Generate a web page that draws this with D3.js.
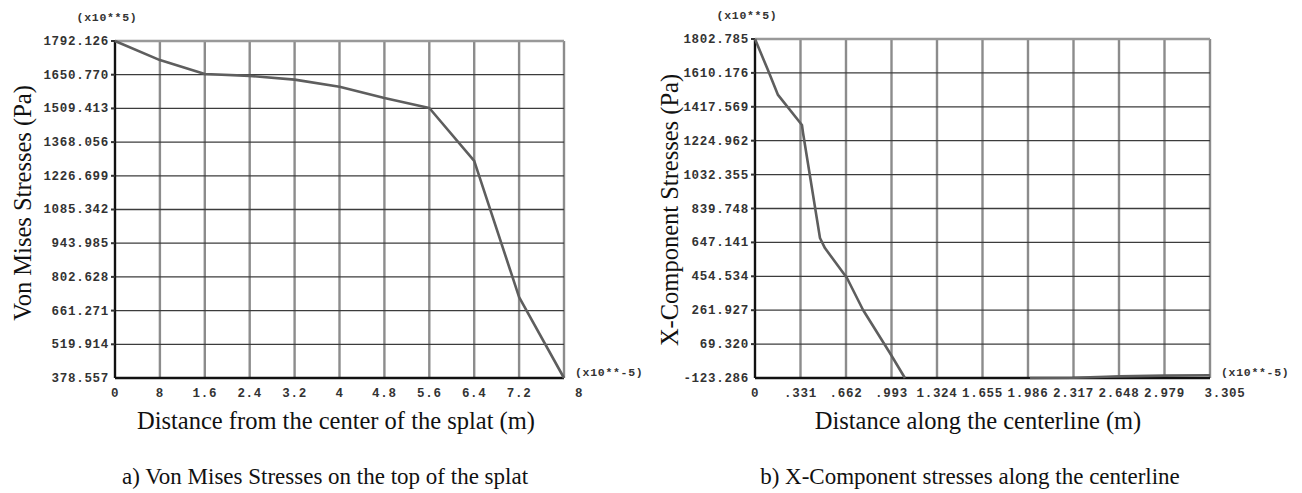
<!DOCTYPE html>
<html>
<head>
<meta charset="utf-8">
<script src="https://cdn.jsdelivr.net/npm/d3@7"></script>
<style>
  body { margin: 0; background: #fff; }
  .tick-lbl { font-family: "Liberation Mono", monospace; font-weight: bold; font-size: 12.5px; letter-spacing: 0.7px; fill: #333; }
  .title { font-family: "Liberation Serif", "Times New Roman", serif; fill: #111; }
</style>
</head>
<body>
<script>
// left chart: von mises stresses on top of the splat (x10**-5 m, x10**5 Pa)
var vmDist = [0, 0.8, 1.6, 2.4, 3.2, 4.0, 4.8, 5.6, 6.4, 7.2, 8.0];
var vmStress = [1792.126, 1712, 1654, 1646, 1630, 1600, 1553, 1511, 1289, 718, 378.557];
var vmXTicks = ["0", "8", "1.6", "2.4", "3.2", "4", "4.8", "5.6", "6.4", "7.2", "8"];
var vmYTicks = ["378.557", "519.914", "661.271", "802.628", "943.985", "1085.342", "1226.699", "1368.056", "1509.413", "1650.770", "1792.126"];

// right chart: x-component stresses along the centerline
var xcDist = [0, 0.094, 0.167, 0.341, 0.349, 0.472, 0.508, 0.668, 0.785, 0.98, 1.089];
var xcStress = [1802.785, 1626, 1485, 1314, 1269, 672, 615, 445, 263, 19, -123.286];
var xcDist2 = [1.997, 2.317, 2.55, 2.648, 2.979, 3.305];
var xcStress2 = [-123.286, -122, -116, -114, -110, -108];
var xcXTicks = ["0", ".331", ".662", ".993", "1.324", "1.655", "1.986", "2.317", "2.648", "2.979", "3.305"];
var xcYTicks = ["-123.286", "69.320", "261.927", "454.534", "647.141", "839.748", "1032.355", "1224.962", "1417.569", "1610.176", "1802.785"];

var W = 1302, H = 493;
var svg = d3.select("body").append("svg").attr("width", W).attr("height", H);

function drawPanel(opt) {
  var g = svg.append("g");
  var x = d3.scaleLinear().domain(opt.xDomain).range([opt.left, opt.right]);
  var y = d3.scaleLinear().domain(opt.yDomain).range([opt.bottom, opt.top]);
  var xVals = opt.xTicks.map(function(d, i) { return opt.xDomain[0] + i * (opt.xDomain[1] - opt.xDomain[0]) / (opt.xTicks.length - 1); });
  var yVals = opt.yTicks.map(function(d) { return +d; });

  // vertical grid (lighter, wider)
  g.selectAll("line.vg").data(xVals).enter().append("line")
    .attr("x1", function(d) { return x(d); }).attr("x2", function(d) { return x(d); })
    .attr("y1", opt.top).attr("y2", opt.bottom)
    .attr("stroke", "#8c8c8c").attr("stroke-width", 2.4);
  // horizontal grid (darker, thin)
  g.selectAll("line.hg").data(yVals).enter().append("line")
    .attr("x1", opt.left).attr("x2", opt.right)
    .attr("y1", function(d) { return y(d); }).attr("y2", function(d) { return y(d); })
    .attr("stroke", "#3c3c3c").attr("stroke-width", 1.3);
  // top border gray
  g.append("line").attr("x1", opt.left).attr("x2", opt.right).attr("y1", opt.top).attr("y2", opt.top)
    .attr("stroke", "#999").attr("stroke-width", 2.4);

  // axes
  g.append("line").attr("x1", opt.left).attr("x2", opt.left).attr("y1", opt.top).attr("y2", opt.bottom)
    .attr("stroke", "#111").attr("stroke-width", 2.2);
  g.append("line").attr("x1", opt.left).attr("x2", opt.right).attr("y1", opt.bottom).attr("y2", opt.bottom)
    .attr("stroke", "#111").attr("stroke-width", 2.4);

  // y tick marks + labels
  g.selectAll("rect.yt").data(yVals.slice(1)).enter().append("rect")
    .attr("x", opt.left - 4).attr("y", function(d) { return y(d) - 1; })
    .attr("width", 4).attr("height", 2).attr("fill", "#333");
  g.selectAll("text.yl").data(opt.yTicks).enter().append("text")
    .attr("class", "tick-lbl")
    .attr("x", opt.left - 6)
    .attr("y", function(d) { return y(+d) + 4; })
    .attr("text-anchor", "end")
    .text(function(d) { return d; });

  // x labels
  g.selectAll("text.xl").data(opt.xTicks).enter().append("text")
    .attr("class", "tick-lbl")
    .attr("x", function(d, i) { return x(xVals[i]) + (i === opt.xTicks.length - 1 ? 15 : 0); })
    .attr("y", opt.bottom + 19)
    .attr("text-anchor", "middle")
    .text(function(d) { return d; });

  // exponent notes
  g.append("text").attr("class", "tick-lbl").attr("x", opt.left - 8).attr("y", opt.top - 20)
    .attr("text-anchor", "middle").style("font-size", "11.5px").text("(x10**5)");
  g.append("text").attr("class", "tick-lbl").attr("x", opt.right + 11).attr("y", opt.bottom - 2)
    .style("font-size", "11.5px").text("(x10**-5)");

  // data lines
  var line = d3.line().x(function(d) { return x(d[0]); }).y(function(d) { return y(d[1]); });
  opt.series.forEach(function(s) {
    g.append("path").datum(d3.zip(s[0], s[1]))
      .attr("d", line).attr("fill", "none")
      .attr("stroke", "#5e5e5e").attr("stroke-width", 2.6).attr("stroke-linejoin", "round");
  });

  // titles
  g.append("text").attr("class", "title")
    .attr("transform", "translate(" + opt.yTitleX + "," + opt.yTitleY + ") rotate(-90)")
    .attr("text-anchor", "middle").style("font-size", "24.5px").text(opt.yTitle);
  g.append("text").attr("class", "title")
    .attr("x", opt.xTitleX).attr("y", opt.bottom + 51)
    .attr("text-anchor", "middle").style("font-size", "24.5px").text(opt.xTitle);
  g.append("text").attr("class", "title")
    .attr("x", opt.capX).attr("y", 484)
    .attr("text-anchor", "middle").style("font-size", "23px").text(opt.caption);
}

drawPanel({
  left: 115, right: 564, top: 41, bottom: 378,
  xDomain: [0, 8], yDomain: [378.557, 1792.126],
  xTicks: vmXTicks, yTicks: vmYTicks,
  series: [[vmDist, vmStress]],
  yTitle: "Von Mises Stresses (Pa)", yTitleX: 31, yTitleY: 203,
  xTitle: "Distance from the center of the splat (m)", xTitleX: 336,
  caption: "a) Von Mises Stresses on the top of the splat", capX: 325
});

drawPanel({
  left: 755, right: 1210, top: 39, bottom: 378,
  xDomain: [0, 3.305], yDomain: [-123.286, 1802.785],
  xTicks: xcXTicks, yTicks: xcYTicks,
  series: [[xcDist, xcStress], [xcDist2, xcStress2]],
  yTitle: "X-Component Stresses (Pa)", yTitleX: 678, yTitleY: 210,
  xTitle: "Distance along the centerline (m)", xTitleX: 978,
  caption: "b) X-Component stresses along the centerline", capX: 970
});
</script>
</body>
</html>
